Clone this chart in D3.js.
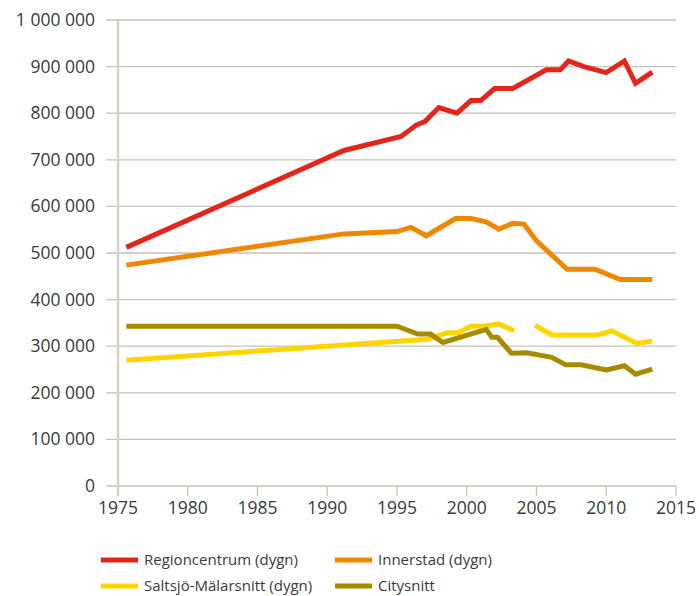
<!DOCTYPE html>
<html>
<head>
<meta charset="utf-8">
<script src="https://cdn.jsdelivr.net/npm/d3@7"></script>
<style>
  body { margin: 0; background: #fff; }
  svg text { font-family: "Open Sans", sans-serif; fill: #3a3a3a; }
</style>
</head>
<body>
<svg id="chart"></svg>
<script>
// values in thousands, x positions (years)
var regionYears = [1975.6, 1991.2, 1995.3, 1996.4, 1997.0, 1998.0, 1999.3, 2000.3, 2001.0, 2002.0, 2003.3, 2005.7, 2006.7, 2007.3, 2008.4, 2010.0, 2011.3, 2012.1, 2013.3];
var regionValues = [512, 720, 750, 775, 782, 812, 800, 827, 827, 853, 853, 893, 893, 912, 900, 887, 912, 864, 888];

var innerYears = [1975.6, 1991.2, 1995.0, 1996.0, 1997.1, 1999.2, 2000.3, 2001.4, 2002.3, 2003.3, 2004.1, 2005.0, 2007.2, 2009.2, 2011.0, 2013.3];
var innerValues = [474, 541, 546, 555, 537, 574, 574, 567, 551, 564, 562, 526, 465, 465, 443, 443];

var saltsjoYears = [1975.6, 1997.2, 1998.6, 1999.4, 2000.3, 2001.2, 2002.3, 2003.4, 2004.2, 2004.9, 2006.1, 2009.4, 2010.4, 2012.2, 2013.3];
var saltsjoValues = [270, 315, 329, 329, 343, 343, 348, 333, null, 345, 324, 324, 333, 306, 311];

var cityYears = [1975.6, 1995.0, 1996.5, 1997.4, 1998.3, 2001.4, 2001.8, 2002.2, 2003.2, 2004.3, 2006.1, 2007.1, 2008.2, 2010.0, 2011.3, 2012.1, 2013.3];
var cityValues = [343, 343, 326, 326, 308, 336, 319, 319, 285, 286, 276, 260, 260, 249, 258, 240, 251];

var xTicks = [1975, 1980, 1985, 1990, 1995, 2000, 2005, 2010, 2015];
var yTicks = [0, 100000, 200000, 300000, 400000, 500000, 600000, 700000, 800000, 900000, 1000000];

var seriesNames = ["Regioncentrum (dygn)", "Innerstad (dygn)", "Saltsjö-Mälarsnitt (dygn)", "Citysnitt"];
var seriesColors = ["#e3261b", "#f08700", "#ffd500", "#a58b00"];

var width = 699, height = 596;
var svg = d3.select("#chart").attr("width", width).attr("height", height);

var x = d3.scaleLinear().domain([1975, 2015]).range([118, 676]);
var y = d3.scaleLinear().domain([0, 1000000]).range([486, 20]);

var fmt = d3.formatLocale({ decimal: ",", thousands: " ", grouping: [3], currency: ["", ""] }).format(",d");

// horizontal grid + y tick labels
svg.append("g").selectAll("line")
    .data(yTicks)
    .enter().append("line")
    .attr("x1", 106).attr("x2", x(2015))
    .attr("y1", function(d) { return y(d); })
    .attr("y2", function(d) { return y(d); })
    .attr("stroke", "#c9c2b6")
    .attr("stroke-width", 1.3);

svg.append("g").selectAll("text")
    .data(yTicks)
    .enter().append("text")
    .attr("x", 95)
    .attr("y", function(d) { return y(d) + 6; })
    .attr("text-anchor", "end")
    .style("font-size", "17.5px")
    .text(function(d) { return fmt(d); });

// x ticks and labels
svg.append("g").selectAll("line")
    .data(xTicks)
    .enter().append("line")
    .attr("x1", function(d) { return x(d); })
    .attr("x2", function(d) { return x(d); })
    .attr("y1", y(0)).attr("y2", y(0) + 10)
    .attr("stroke", "#c9c2b6")
    .attr("stroke-width", 1.3);

svg.append("g").selectAll("text")
    .data(xTicks)
    .enter().append("text")
    .attr("x", function(d) { return x(d); })
    .attr("y", 514)
    .attr("text-anchor", "middle")
    .style("font-size", "17.5px")
    .text(function(d) { return d; });

// y axis line
svg.append("line")
    .attr("x1", x(1975)).attr("x2", x(1975))
    .attr("y1", y(1000000)).attr("y2", y(0) + 10)
    .attr("stroke", "#d8d2c6")
    .attr("stroke-width", 2.5);

var line = d3.line()
    .defined(function(d) { return d[1] != null; })
    .x(function(d) { return x(d[0]); })
    .y(function(d) { return y(d[1] * 1000); });

var series = [
    d3.zip(regionYears, regionValues),
    d3.zip(innerYears, innerValues),
    d3.zip(saltsjoYears, saltsjoValues),
    d3.zip(cityYears, cityValues)
];

svg.append("g").selectAll("path")
    .data(series)
    .enter().append("path")
    .attr("d", line)
    .attr("fill", "none")
    .attr("stroke", function(d, i) { return seriesColors[i]; })
    .attr("stroke-width", 5);

// legend
var legend = svg.append("g").selectAll("g")
    .data(seriesNames)
    .enter().append("g")
    .attr("transform", function(d, i) {
        return "translate(" + (i % 2 ? 335 : 101) + "," + (i < 2 ? 560 : 586) + ")";
    });

legend.append("line")
    .attr("x1", 0).attr("x2", 37)
    .attr("stroke", function(d, i) { return seriesColors[i]; })
    .attr("stroke-width", 5);

legend.append("text")
    .attr("x", 43)
    .attr("y", 5)
    .style("font-size", "15px")
    .text(function(d) { return d; });
</script>
</body>
</html>
